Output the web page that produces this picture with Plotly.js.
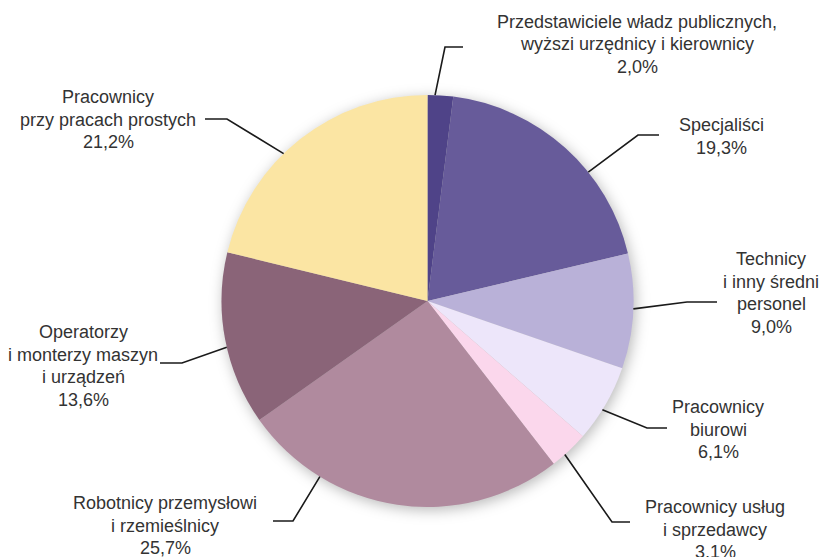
<!DOCTYPE html>
<html><head><meta charset="utf-8">
<script src="https://cdn.plot.ly/plotly-3.0.1.min.js"></script>
<style>
html,body{margin:0;padding:0;background:#fff;}
#chart{width:821px;height:557px;}
.pielayer{filter:drop-shadow(2px 3px 7px rgba(0,0,0,0.28));}
</style></head>
<body><div id="chart"></div>
<script>
// ---- data ----
var categories = [
  "Przedstawiciele władz publicznych,<br>wyższi urzędnicy i kierownicy",
  "Specjaliści",
  "Technicy<br>i inny średni<br>personel",
  "Pracownicy<br>biurowi",
  "Pracownicy usług<br>i sprzedawcy",
  "Robotnicy przemysłowi<br>i rzemieślnicy",
  "Operatorzy<br>i monterzy maszyn<br>i urządzeń",
  "Pracownicy<br>przy pracach prostych"
];
var values = [2.0, 19.3, 9.0, 6.1, 3.1, 25.7, 13.6, 21.2];
var valueLabels = ["2,0%", "19,3%", "9,0%", "6,1%", "3,1%", "25,7%", "13,6%", "21,2%"];
var colors = ["#4f4388", "#675b9a", "#b9b1d8", "#ede6fa", "#fbd7ec", "#b08a9e", "#8a6478", "#fbe5a3"];

// ---- layout helpers (pixel geometry of label placement) ----
var W = 821, H = 557;
var cx = 427.5, cy = 301, R = 206;
// label text centre x, first line y (px)
var labelPos = [[637, 22], [721, 125], [771, 259], [718, 407], [715, 507], [165, 503], [83, 332], [108, 97]];
// leader: attach angle on rim (deg, clockwise from top), elbow point, end point
var leaderAttach = [2.1, 51.3, 92.2, 121.9, 138.2, 211.5, 257, 315.7];
var leaderElbow = [[445, 47], [638, 135], [687, 302], [647, 428], [612, 522], [293, 521], [182, 363], [227, 119]];
var leaderEnd = [[463, 47], [659, 135], [717, 302], [667, 428], [630, 522], [273, 521], [160, 363], [205, 119]];
var lineStep = 22.5;

function px(x){return x / W;}
function py(y){return 1 - y / H;}

var annotations = [], shapes = [];
categories.forEach(function(cat, i){
  var lines = cat.split("<br>").concat([valueLabels[i]]);
  lines.forEach(function(t, k){
    annotations.push({
      xref: "paper", yref: "paper",
      x: px(labelPos[i][0]), y: py(labelPos[i][1] + k * lineStep),
      xanchor: "center", yanchor: "middle",
      text: t, showarrow: false,
      font: {family: "Liberation Sans, Arial, sans-serif", size: 18, color: "#333333"}
    });
  });
  var a = leaderAttach[i] * Math.PI / 180;
  var sx = cx + R * Math.sin(a), sy = cy - R * Math.cos(a);
  var path = "M" + px(sx) + "," + py(sy) + " L" + px(leaderElbow[i][0]) + "," + py(leaderElbow[i][1]) +
             " L" + px(leaderEnd[i][0]) + "," + py(leaderEnd[i][1]);
  shapes.push({type: "path", xref: "paper", yref: "paper", path: path,
               line: {color: "#1a1a1a", width: 1.6}});
});

var trace = {
  type: "pie",
  labels: categories,
  values: values,
  sort: false,
  direction: "clockwise",
  rotation: 0,
  textinfo: "none",
  hoverinfo: "label+value",
  marker: {colors: colors, line: {width: 0}},
  domain: {x: [px(cx - R), px(cx + R)], y: [py(cy + R), py(cy - R)]},
  showlegend: false
};

var layout = {
  width: W, height: H,
  margin: {l: 0, r: 0, t: 0, b: 0},
  paper_bgcolor: "#ffffff",
  showlegend: false,
  annotations: annotations,
  shapes: shapes
};
Plotly.newPlot("chart", [trace], layout, {displayModeBar: false, staticPlot: true});
</script>
</body></html>
